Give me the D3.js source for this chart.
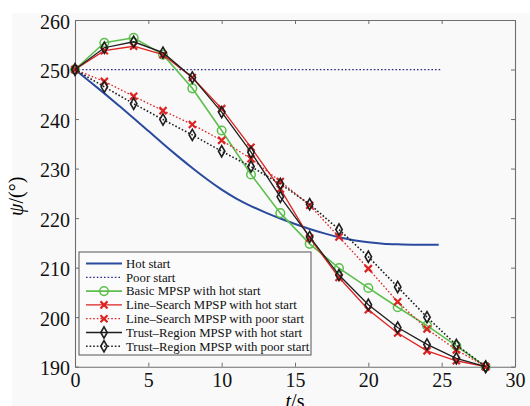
<!DOCTYPE html>
<html>
<head>
<meta charset="utf-8">
<script src="https://cdn.jsdelivr.net/npm/d3@7"></script>
<style>
  body { margin: 0; background: #fff; }
</style>
</head>
<body>
<div id="chart_area"></div>
<script>
// sample times of the MPSP iterations
var tSteps = [0, 2, 4, 6, 8, 10, 12, 14, 16, 18, 20, 22, 24, 26, 28];

var basicHot = [250, 255.4, 256.4, 253, 246.2, 237.7, 228.8, 221, 214.8, 209.9, 205.9, 202, 198.3, 194.2, 190];
var lsHot    = [250, 253.8, 254.7, 253, 248.4, 242.1, 234.3, 225.9, 216, 208, 201.5, 196.8, 193.2, 191.2, 190];
var lsPoor   = [250, 247.6, 244.6, 241.7, 238.9, 235.7, 232, 227.4, 222.6, 216.2, 209.8, 203.1, 197.6, 193.4, 190];
var trHot    = [250, 254.4, 255.6, 253.4, 248.4, 241.4, 233.3, 224.3, 216.2, 208.5, 202.5, 197.9, 194.5, 191.7, 190];
var trPoor   = [250, 246.5, 243.1, 239.9, 236.8, 233.5, 230.4, 226.9, 222.8, 217.7, 212.2, 206.1, 200, 194.4, 190];

// hot start guess (smooth curve)
var hotT   = [0, 1, 2, 3, 4, 5, 6, 7, 8, 9, 10, 11, 12, 13, 14, 15, 16, 17, 18, 19, 20, 21, 22, 23, 24, 24.8];
var hotPsi = [250, 247.6, 245.2, 242.7, 240.2, 237.6, 235, 232.5, 230.1, 227.8, 225.7, 223.9, 222.4, 221.1, 219.9, 218.8,
              217.8, 216.9, 216.1, 215.5, 215.1, 214.8, 214.7, 214.6, 214.6, 214.6];

// poor start guess (flat)
var poorT   = [0, 25];
var poorPsi = [250, 250];

var xTicks = [0, 5, 10, 15, 20, 25, 30];
var yTicks = [190, 200, 210, 220, 230, 240, 250, 260];

var legendNames = [
    "Hot start",
    "Poor start",
    "Basic MPSP with hot start",
    "Line\u2013Search MPSP with hot start",
    "Line\u2013Search MPSP with poor start",
    "Trust\u2013Region MPSP with hot start",
    "Trust\u2013Region MPSP with poor start"
];

var serif = "'Liberation Serif', 'Times New Roman', serif";

var W = 530, H = 406;
var margin = {top: 20, right: 15, bottom: 39.3, left: 75};
var width = W - margin.left - margin.right;
var height = H - margin.top - margin.bottom;

var svgRoot = d3.select("#chart_area")
    .append("svg")
    .attr("width", W)
    .attr("height", H)
    .attr("font-family", serif);

// light grey page behind the figure
svgRoot.append("rect")
    .attr("x", 12).attr("y", 13)
    .attr("width", W - 12).attr("height", H - 13)
    .attr("fill", "#f9f9f9");

var svG = svgRoot.append("g")
    .attr("transform", "translate(" + margin.left + "," + margin.top + ")");

var x = d3.scaleLinear().domain([0, 30]).range([0, width]);
var y = d3.scaleLinear().domain([190, 260]).range([height, 0]);

// axes, ticks pointing inward like matlab
var axisColor = "#6e6e6e";
var styleAxis = function(g) {
    g.attr("font-family", serif).attr("font-size", 20);
    g.select(".domain").attr("stroke", axisColor).attr("stroke-width", 1.1);
    g.selectAll(".tick line").attr("stroke", axisColor);
    g.selectAll(".tick text").attr("fill", "#111");
};

svG.append("g")
    .attr("transform", "translate(0," + height + ")")
    .call(d3.axisBottom(x).tickValues(xTicks).tickSize(-4).tickSizeOuter(0).tickPadding(6))
    .call(styleAxis);

svG.append("g")
    .call(d3.axisTop(x).tickValues(xTicks).tickSize(-4).tickSizeOuter(0).tickFormat(""))
    .call(styleAxis);

svG.append("g")
    .call(d3.axisLeft(y).tickValues(yTicks).tickSize(-4).tickSizeOuter(0).tickPadding(5))
    .call(styleAxis)
    .selectAll(".tick text").attr("dy", "0.4em");

svG.append("g")
    .attr("transform", "translate(" + width + ",0)")
    .call(d3.axisRight(y).tickValues(yTicks).tickSize(-4).tickSizeOuter(0).tickFormat(""))
    .call(styleAxis);

// series styles
var series = [
    {t: hotT, v: hotPsi, color: "#2a4a9e", width: 2, dash: null, marker: null, smooth: true},
    {t: poorT, v: poorPsi, color: "#2c2c86", width: 1.3, dash: "1.6,2", marker: null},
    {t: tSteps, v: basicHot, color: "#5cbf4c", width: 1.6, dash: null, marker: "circle"},
    {t: tSteps, v: lsHot, color: "#dd2222", width: 1.3, dash: null, marker: "cross"},
    {t: tSteps, v: lsPoor, color: "#dd2222", width: 1.3, dash: "1.6,2", marker: "cross"},
    {t: tSteps, v: trHot, color: "#1e1e1e", width: 1.3, dash: null, marker: "diamond"},
    {t: tSteps, v: trPoor, color: "#1e1e1e", width: 1.6, dash: "1.6,2", marker: "diamond"}
];

var drawMarker = function(sel, kind, color) {
    if (kind === "circle") {
        sel.append("circle").attr("r", 4.3)
            .attr("fill", "none").attr("stroke", color).attr("stroke-width", 1.5);
    } else if (kind === "cross") {
        sel.append("path").attr("d", d3.symbol().type(d3.symbolTimes).size(34))
            .attr("fill", "none").attr("stroke", color).attr("stroke-width", 2.2);
    } else if (kind === "diamond") {
        sel.append("path").attr("d", d3.symbol().type(d3.symbolDiamond).size(36))
            .attr("fill", "none").attr("stroke", color).attr("stroke-width", 1.6);
    }
};

series.forEach(function(s) {
    var pts = s.t.map(function(t, i) { return [t, s.v[i]]; });
    var line = d3.line()
        .x(function(d) { return x(d[0]); })
        .y(function(d) { return y(d[1]); })
        .curve(s.smooth ? d3.curveBasis : d3.curveLinear);
    svG.append("path")
        .datum(pts)
        .attr("d", line)
        .attr("fill", "none")
        .attr("stroke", s.color)
        .attr("stroke-width", s.width)
        .attr("stroke-dasharray", s.dash);
    if (s.marker) {
        svG.selectAll(null)
            .data(pts)
            .enter()
            .append("g")
            .attr("transform", function(d) { return "translate(" + x(d[0]) + "," + y(d[1]) + ")"; })
            .each(function() { drawMarker(d3.select(this), s.marker, s.color); });
    }
});

// legend
var legend = svgRoot.append("g").attr("transform", "translate(79,252)");
legend.append("rect")
    .attr("width", 232).attr("height", 103)
    .attr("fill", "#fbfbfb")
    .attr("stroke", "#555").attr("stroke-width", 1);

var rows = legend.selectAll(null)
    .data(series)
    .enter()
    .append("g")
    .attr("transform", function(d, i) { return "translate(0," + (11.5 + i * 13.8) + ")"; });

rows.append("line")
    .attr("x1", 7).attr("x2", 43)
    .attr("stroke", function(d) { return d.color; })
    .attr("stroke-width", function(d) { return d.width; })
    .attr("stroke-dasharray", function(d) { return d.dash; });

rows.each(function(d) {
    if (d.marker) {
        drawMarker(d3.select(this).append("g").attr("transform", "translate(25,0)"), d.marker, d.color);
    }
});

rows.append("text")
    .attr("x", 47)
    .attr("dy", "0.33em")
    .attr("font-size", 12.8)
    .attr("fill", "#111")
    .text(function(d, i) { return legendNames[i]; });

// axis titles (the x title is cut by the bottom edge, as in the original)
var xTitle = svgRoot.append("text")
    .attr("x", margin.left + x(15))
    .attr("y", 408)
    .attr("text-anchor", "middle")
    .attr("font-size", 20);
xTitle.append("tspan").attr("font-style", "italic").text("t");
xTitle.append("tspan").text("/s");

var yTitle = svgRoot.append("text")
    .attr("transform", "translate(23," + (margin.top + height / 2 + 3) + ") rotate(-90)")
    .attr("text-anchor", "middle")
    .attr("font-size", 20);
yTitle.append("tspan").attr("font-style", "italic").text("\u03c8");
yTitle.append("tspan").text("/(\u00b0)");
</script>
</body>
</html>
